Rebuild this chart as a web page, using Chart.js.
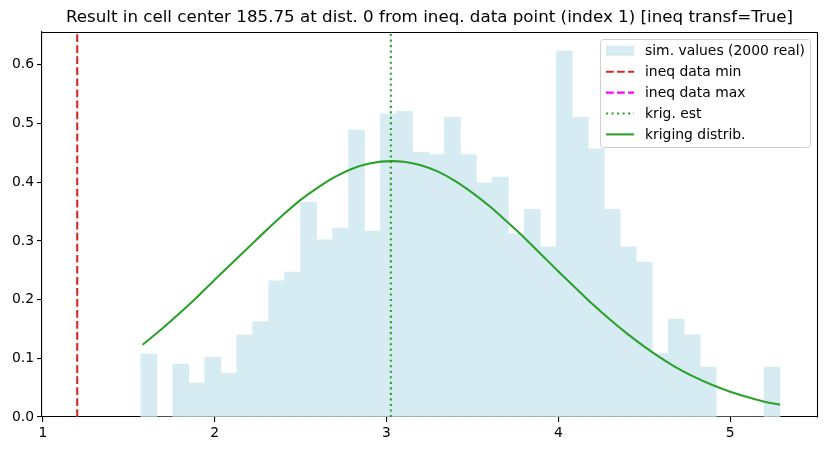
<!DOCTYPE html>
<html>
<head>
<meta charset="utf-8">
<script src="https://cdn.jsdelivr.net/npm/chart.js@4/dist/chart.umd.min.js"></script>
<style>
html,body{margin:0;padding:0;background:#fff;}
#c{display:block;}
</style>
</head>
<body>
<canvas id="c" width="826" height="451"></canvas>
<script>
// ---- data ----
const titleText = "Result in cell center 185.75 at dist. 0 from ineq. data point (index 1) [ineq transf=True]";
const binStart = 1.570;
const binWidth = 0.093;
const simDensity = [0.107,0,0.090,0.058,0.102,0.075,0.140,0.162,0.232,0.247,
                    0.366,0.302,0.322,0.489,0.317,0.516,0.521,0.451,0.447,0.511,
                    0.447,0.399,0.409,0.312,0.354,0.290,0.624,0.511,0.457,0.354,
                    0.290,0.264,0.108,0.167,0.140,0.085,0,0,0,0.085];
const curveX = [1.58,1.7,1.8,1.9,2.0,2.1,2.2,2.3,2.4,2.5,2.6,2.7,2.8,2.9,3.03,3.1,3.2,3.3,3.4,3.5,3.6,3.7,3.8,3.9,4.0,4.1,4.2,4.3,4.4,4.5,4.6,4.7,4.8,4.9,5.0,5.1,5.2,5.29];
const curveY = [0.123,0.152,0.178,0.205,0.234,0.262,0.290,0.318,0.345,0.370,0.391,0.409,0.423,0.432,0.436,0.435,0.429,0.418,0.402,0.382,0.359,0.333,0.306,0.277,0.248,0.220,0.192,0.166,0.142,0.120,0.100,0.082,0.067,0.054,0.043,0.034,0.026,0.021];
const ineqMin = 1.2;
const krigEst = 3.025;
const xTicks = [1,2,3,4,5];
const yTicks = [0.0,0.1,0.2,0.3,0.4,0.5,0.6];
const xMin = 0.995, xMax = 5.505, yMin = 0, yMax = 0.656;
const legendLabels = ["sim. values (2000 real)","ineq data min","ineq data max","krig. est","kriging distrib."];

// ---- build ----
const barData = simDensity.map((v,i)=>({x: binStart + binWidth*(i+0.5), y: v}));
const curveData = curveX.map((x,i)=>({x:x, y:curveY[i]}));
const FONT = '"DejaVu Sans", "Liberation Sans", sans-serif';
const BAR_COLOR = 'rgb(214,236,242)';
const LW = 2.08;
const DASHED = [7.7, 3.33];
const DOTTED = [2.08, 3.44];

const decorPlugin = {
  id: 'mplDecor',
  afterDraw(chart){
    const ctx = chart.ctx;
    const a = chart.chartArea;
    ctx.save();
    // title centred over the axes
    ctx.fillStyle='#000';
    ctx.font='16.7px '+FONT;
    ctx.textAlign='center';
    ctx.textBaseline='middle';
    ctx.fillText(titleText, (a.left+a.right)/2, 18);
    // top & right spines
    ctx.strokeStyle = '#000';
    ctx.lineWidth = 1.1;
    ctx.beginPath();
    ctx.moveTo(Math.round(a.left), Math.round(a.top)+0.5);
    ctx.lineTo(Math.round(a.right)+0.5, Math.round(a.top)+0.5);
    ctx.lineTo(Math.round(a.right)+0.5, Math.round(a.bottom)+0.5);
    ctx.stroke();
    // legend box
    const bx=600.5, by=39.5, bw=210, bh=108, r=3;
    ctx.beginPath();
    ctx.moveTo(bx+r,by); ctx.lineTo(bx+bw-r,by); ctx.arcTo(bx+bw,by,bx+bw,by+r,r);
    ctx.lineTo(bx+bw,by+bh-r); ctx.arcTo(bx+bw,by+bh,bx+bw-r,by+bh,r);
    ctx.lineTo(bx+r,by+bh); ctx.arcTo(bx,by+bh,bx,by+bh-r,r);
    ctx.lineTo(bx,by+r); ctx.arcTo(bx,by,bx+r,by,r);
    ctx.closePath();
    ctx.fillStyle='rgba(255,255,255,0.8)'; ctx.fill();
    ctx.strokeStyle='#d0d0d0'; ctx.lineWidth=1; ctx.stroke();
    const rows=[50.8,71.7,92.6,113.5,134.4];
    const hx0=606, hx1=634, tx=645;
    ctx.fillStyle=BAR_COLOR;
    ctx.fillRect(hx0, rows[0]-5, hx1-hx0, 10);
    const lines=[
      {c:'#d62728', d:DASHED},
      {c:'#ff00ff', d:DASHED},
      {c:'#2ca02c', d:DOTTED},
      {c:'#2ca02c', d:[]}
    ];
    lines.forEach((l,i)=>{
      ctx.beginPath();
      ctx.setLineDash(l.d);
      ctx.strokeStyle=l.c; ctx.lineWidth=LW;
      ctx.moveTo(hx0, rows[i+1]); ctx.lineTo(hx1, rows[i+1]);
      ctx.stroke();
    });
    ctx.setLineDash([]);
    ctx.fillStyle='#000';
    ctx.font='13.9px '+FONT;
    ctx.textBaseline='middle';
    ctx.textAlign='left';
    legendLabels.forEach((t,i)=>ctx.fillText(t, tx, rows[i]+0.5));
    ctx.restore();
  }
};

new Chart(document.getElementById('c'), {
  data: {
    datasets: [
      {type:'bar', label:legendLabels[0], data: barData, backgroundColor:BAR_COLOR,
       borderWidth:0, barPercentage:1.0, categoryPercentage:1.0, order:10},
      {type:'line', label:legendLabels[1], data:[{x:ineqMin,y:yMin},{x:ineqMin,y:yMax}],
       borderColor:'#d62728', borderWidth:LW, borderDash:DASHED, pointRadius:0, fill:false, order:4},
      {type:'line', label:legendLabels[2], data:[], borderColor:'#ff00ff', borderWidth:LW,
       borderDash:DASHED, pointRadius:0, fill:false, order:3},
      {type:'line', label:legendLabels[3], data:[{x:krigEst,y:yMin},{x:krigEst,y:yMax}],
       borderColor:'#2ca02c', borderWidth:LW, borderDash:DOTTED, pointRadius:0, fill:false, order:2},
      {type:'line', label:legendLabels[4], data: curveData, borderColor:'#2ca02c', borderWidth:LW,
       pointRadius:0, fill:false, cubicInterpolationMode:'monotone', order:1}
    ]
  },
  options: {
    responsive:false,
    animation:false,
    layout:{padding:{left:0, right:9, top:32, bottom:0}},
    plugins:{
      legend:{display:false},
      tooltip:{enabled:false},
      title:{display:false}
    },
    scales:{
      x:{type:'linear', min:xMin, max:xMax, offset:false,
         afterFit(s){ s.height = 34; },
         afterBuildTicks(s){ s.ticks = xTicks.map(v=>({value:v})); },
         ticks:{color:'#000', font:{family:FONT, size:13.9}, padding:3, includeBounds:false,
                callback:(v)=>String(v), maxRotation:0, autoSkip:false},
         grid:{display:true, offset:false, drawOnChartArea:false, drawTicks:true, tickLength:5, color:'#000', lineWidth:1.1},
         border:{display:true, color:'#000', width:1.1}},
      y:{type:'linear', min:yMin, max:yMax,
         afterFit(s){ s.width = 42; },
         afterBuildTicks(s){ s.ticks = yTicks.map(v=>({value:v})); },
         ticks:{color:'#000', font:{family:FONT, size:13.9}, padding:3, includeBounds:false,
                callback:(v)=>Number(v).toFixed(1), autoSkip:false},
         grid:{display:true, drawOnChartArea:false, drawTicks:true, tickLength:5, color:'#000', lineWidth:1.1},
         border:{display:true, color:'#000', width:1.1}}
    }
  },
  plugins:[decorPlugin]
});
</script>
</body>
</html>
